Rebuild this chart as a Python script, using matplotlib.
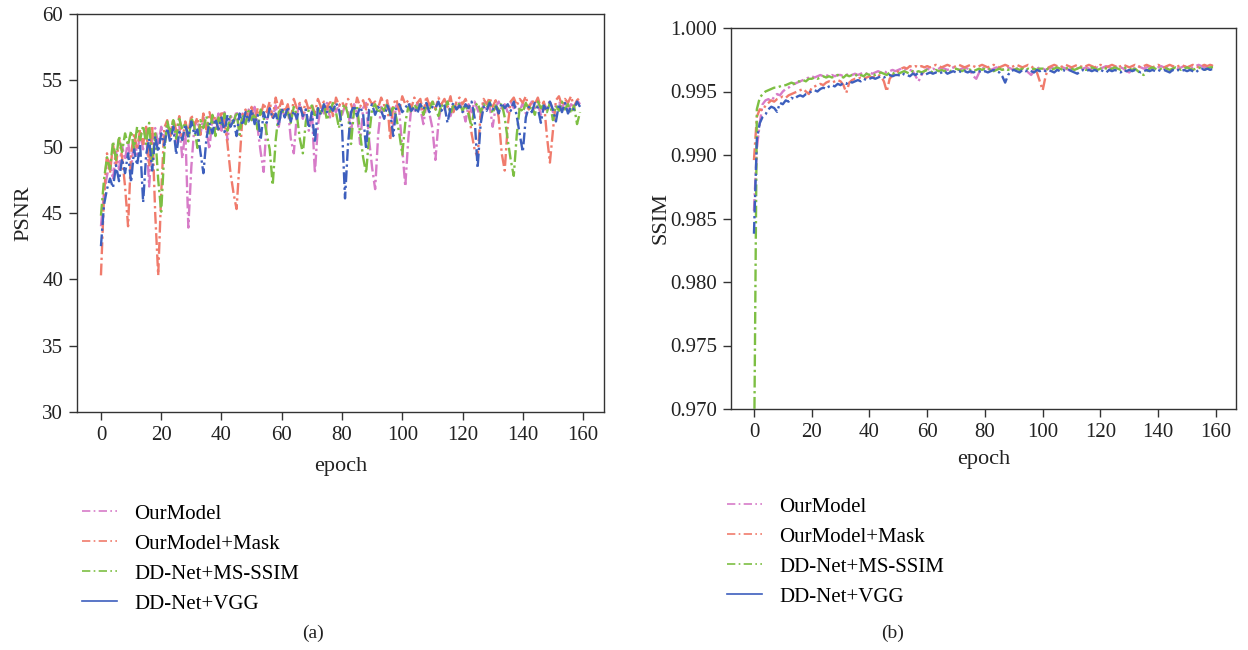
import matplotlib
matplotlib.use("Agg")
import matplotlib.pyplot as plt
from matplotlib.lines import Line2D
import numpy as np

plt.rcParams['font.family'] = ['Liberation Serif', 'DejaVu Serif']

epochs = list(range(160))
labels = ["OurModel", "OurModel+Mask", "DD-Net+MS-SSIM", "DD-Net+VGG"]
colors = ["#d77cc8", "#f07b6c", "#7dbf43", "#3d5fbd"]

psnr_ourmodel = [
    44.0, 46.5, 47.8, 48.9, 47.5, 49.6, 48.3, 50.1, 49.0, 50.5, 48.2, 50.7, 49.4, 51.0, 49.8, 51.2, 47.0, 50.6, 51.4, 50.2,
    51.5, 50.4, 51.7, 50.8, 51.9, 50.3, 51.6, 49.1, 51.2, 43.9, 48.5, 51.5, 52.0, 50.9, 52.2, 51.3, 49.8, 52.3, 51.4, 52.5,
    51.2, 52.6, 50.5, 52.4, 51.8, 52.7, 50.9, 52.5, 51.7, 52.8, 52.0, 53.0, 51.4, 49.6, 48.1, 51.9, 52.9, 52.2, 53.1, 51.5,
    52.8, 52.3, 53.0, 50.6, 49.5, 52.4, 53.2, 52.1, 52.9, 51.2, 52.7, 48.0, 51.6, 53.1, 52.5, 53.3, 52.2, 53.0, 52.6, 53.2,
    52.4, 53.1, 52.8, 51.0, 53.2, 52.5, 50.2, 52.9, 53.3, 50.5, 48.4, 46.8, 50.9, 53.0, 52.6, 53.3, 52.8, 51.6, 53.1, 52.7,
    49.8, 47.0, 50.6, 53.0, 52.6, 53.3, 52.9, 51.7, 53.2, 52.5, 51.4, 49.0, 51.8, 53.2, 52.8, 53.4, 52.3, 53.1, 52.7, 53.3,
    52.9, 51.9, 53.2, 52.6, 53.4, 52.8, 52.2, 53.3, 52.7, 53.1, 51.5, 53.0, 53.4, 52.8, 53.2, 52.6, 53.4, 52.9, 53.1, 52.7,
    53.3, 52.5, 53.0, 53.4, 52.9, 53.2, 52.4, 53.3, 52.8, 53.5, 52.6, 53.1, 53.3, 52.9, 53.4, 52.7, 53.2, 53.0, 53.5, 53.2,
]
psnr_mask = [
    40.3, 46.2, 49.5, 48.0, 50.2, 48.6, 50.6, 49.2, 47.0, 44.0, 49.5, 51.0, 49.8, 51.3, 50.2, 51.5, 48.5, 51.6, 45.0, 40.3,
    46.5, 51.4, 52.0, 50.8, 52.1, 51.2, 52.3, 50.5, 51.9, 51.0, 52.4, 51.6, 52.2, 50.9, 52.5, 51.3, 52.6, 51.8, 52.3, 51.1,
    52.7, 51.9, 50.2, 48.0, 46.5, 45.3, 48.9, 52.4, 52.8, 52.1, 53.0, 51.8, 52.9, 52.3, 53.3, 52.6, 53.4, 52.2, 53.7, 52.8,
    53.5, 52.6, 53.2, 52.0, 53.6, 52.9, 53.3, 52.4, 53.5, 52.7, 53.2, 52.5, 53.6, 53.0, 53.4, 52.8, 53.5, 52.3, 53.7, 53.1,
    53.4, 52.9, 53.6, 53.2, 52.5, 53.7, 53.0, 53.5, 52.8, 53.6, 53.2, 53.4, 52.9, 53.7, 53.1, 53.5, 50.5, 53.2, 53.6, 52.7,
    53.8, 53.2, 53.5, 52.9, 53.7, 53.3, 53.6, 52.4, 53.8, 53.1, 53.5, 52.8, 53.7, 53.2, 53.6, 53.0, 53.8, 52.6, 53.4, 53.7,
    53.2, 53.6, 52.9, 51.0, 49.8, 49.2, 52.5, 53.6, 53.2, 53.7, 53.0, 53.5, 52.2, 49.5, 48.2, 51.6, 53.4, 53.7, 53.1, 53.6,
    53.3, 53.8, 52.8, 53.5, 53.2, 53.7, 52.9, 53.4, 50.8, 48.8, 51.2, 53.5, 53.8, 53.1, 53.6, 53.3, 53.8, 53.0, 53.5, 53.7,
]
psnr_msssim = [
    44.8, 47.5, 49.2, 48.3, 50.4, 49.0, 50.8, 49.6, 51.0, 50.1, 51.2, 49.8, 51.5, 50.5, 51.6, 50.2, 51.8, 48.8, 51.0, 47.5,
    45.1, 49.5, 51.9, 51.0, 52.0, 50.6, 52.1, 51.3, 51.8, 50.4, 52.2, 51.5, 49.9, 52.0, 51.4, 52.3, 51.0, 52.4, 50.8, 52.2,
    51.6, 52.5, 51.2, 52.3, 51.8, 52.6, 50.9, 52.4, 51.7, 52.7, 52.0, 52.5, 51.3, 52.8, 52.2, 51.0, 49.8, 47.1, 50.5, 52.6,
    52.9, 52.3, 52.6, 51.8, 53.0, 52.4, 50.6, 49.5, 51.9, 52.8, 53.1, 52.2, 52.9, 52.5, 53.2, 52.0, 52.7, 53.3, 52.6, 51.4,
    52.9, 53.2, 52.4, 50.2, 52.8, 53.1, 51.0, 49.2, 48.0, 50.8, 52.9, 53.2, 52.5, 53.0, 52.7, 53.3, 52.4, 53.1, 52.2, 51.0,
    49.4, 51.8, 53.0, 52.6, 53.2, 52.8, 53.3, 52.4, 53.1, 52.7, 53.4, 52.9, 52.3, 53.2, 52.8, 53.4, 52.5, 53.1, 52.9, 53.3,
    52.7, 53.2, 52.4, 51.5, 53.0, 53.3, 52.6, 53.2, 52.9, 53.4, 52.5, 53.1, 52.8, 53.3, 52.2, 50.5, 49.0, 47.8, 50.9, 53.0,
    52.6, 53.3, 52.8, 53.1, 52.4, 53.4, 52.9, 53.2, 52.6, 53.3, 52.0, 53.1, 52.7, 53.4, 52.8, 53.2, 52.5, 53.1, 51.7, 52.6,
]
psnr_vgg = [
    42.5, 45.6, 46.8, 47.6, 46.9, 48.6, 47.4, 49.1, 48.0, 49.5, 47.3, 49.8, 48.6, 50.2, 45.8, 49.4, 50.6, 48.2, 50.8, 49.6,
    51.0, 50.1, 51.4, 50.3, 51.5, 49.4, 51.1, 50.5, 51.7, 50.7, 51.9, 50.9, 51.3, 49.6, 48.0, 50.6, 51.8, 51.0, 52.1, 51.3,
    52.2, 51.1, 52.4, 51.5, 52.0, 50.8, 52.5, 51.6, 52.6, 51.9, 52.8, 51.7, 52.4, 50.5, 52.6, 51.8, 52.9, 52.1, 52.5, 51.6,
    52.9, 52.2, 53.0, 51.9, 52.7, 52.1, 53.1, 52.3, 52.8, 51.4, 52.6, 50.3, 52.9, 52.4, 53.2, 52.6, 53.0, 52.7, 53.3, 52.8,
    51.5, 46.1, 50.2, 52.6, 53.1, 52.3, 53.0, 52.5, 49.8, 52.8, 53.2, 52.4, 53.0, 52.7, 52.1, 53.1, 52.6, 50.8, 52.9, 53.2,
    52.6, 52.9, 53.3, 52.7, 53.0, 52.5, 53.2, 52.8, 53.3, 52.6, 53.0, 52.9, 53.4, 52.7, 53.1, 51.8, 52.9, 53.3, 52.8, 53.1,
    52.6, 53.2, 52.9, 53.4, 52.2, 48.4, 51.7, 53.0, 52.7, 53.3, 52.8, 53.1, 52.5, 53.3, 52.9, 53.2, 52.7, 53.4, 52.3, 50.9,
    49.6, 52.2, 53.0, 52.6, 53.3, 52.9, 51.8, 53.1, 52.7, 53.4, 52.8, 51.9, 53.2, 52.6, 53.3, 52.5, 53.0, 52.8, 53.4, 53.0,
]

ssim_ourmodel = [
    .9856, .9905, .9925, .9940, .9943, .9944, .9942, .9946, .9948, .9947, .9950, .9952, .9953, .9955, .9956, .9957, .9958, .9959, .9960, .9961,
    .9962, .9961, .9962, .9963, .9962, .9963, .9962, .9963, .9962, .9963, .9963, .9962, .9963, .9964, .9963, .9964, .9963, .9964, .9965, .9964,
    .9965, .9964, .9965, .9966, .9965, .9966, .9965, .9966, .9967, .9966, .9967, .9968, .9967, .9968, .9967, .9966, .9962, .9958, .9963, .9966,
    .9968, .9967, .9968, .9967, .9968, .9969, .9968, .9967, .9968, .9969, .9968, .9967, .9968, .9969, .9968, .9966, .9962, .9960, .9965, .9968,
    .9969, .9968, .9967, .9968, .9969, .9968, .9967, .9968, .9969, .9968, .9967, .9968, .9969, .9968, .9967, .9965, .9963, .9966, .9968, .9969,
    .9968, .9967, .9968, .9969, .9968, .9967, .9968, .9969, .9968, .9967, .9968, .9969, .9968, .9967, .9968, .9969, .9968, .9967, .9968, .9969,
    .9968, .9969, .9970, .9969, .9968, .9969, .9970, .9969, .9968, .9966, .9965, .9967, .9969, .9970, .9969, .9968, .9969, .9970, .9969, .9968,
    .9969, .9970, .9969, .9968, .9969, .9970, .9969, .9968, .9969, .9970, .9969, .9968, .9969, .9970, .9971, .9970, .9969, .9970, .9971, .9970,
]
ssim_mask = [
    .9896, .9930, .9936, .9935, .9939, .9941, .9943, .9942, .9944, .9945, .9946, .9945, .9947, .9948, .9949, .9950, .9951, .9952, .9950, .9948,
    .9953, .9954, .9955, .9956, .9955, .9957, .9958, .9957, .9958, .9959, .9958, .9955, .9949, .9957, .9959, .9960, .9960, .9961, .9960, .9961,
    .9962, .9961, .9962, .9963, .9962, .9958, .9950, .9960, .9963, .9964, .9966, .9968, .9969, .9968, .9970, .9969, .9970, .9969, .9970, .9969,
    .9970, .9969, .9970, .9971, .9970, .9969, .9970, .9971, .9970, .9969, .9970, .9971, .9970, .9969, .9970, .9971, .9970, .9969, .9970, .9971,
    .9970, .9969, .9970, .9971, .9970, .9969, .9970, .9971, .9970, .9969, .9970, .9971, .9970, .9969, .9970, .9971, .9970, .9968, .9965, .9958,
    .9951, .9962, .9969, .9970, .9971, .9970, .9969, .9970, .9971, .9970, .9969, .9970, .9971, .9970, .9969, .9970, .9971, .9970, .9969, .9970,
    .9971, .9970, .9969, .9970, .9971, .9970, .9969, .9970, .9971, .9970, .9969, .9970, .9971, .9970, .9969, .9970, .9971, .9970, .9969, .9970,
    .9971, .9970, .9969, .9970, .9971, .9970, .9969, .9970, .9971, .9970, .9969, .9970, .9971, .9970, .9969, .9970, .9971, .9970, .9971, .9970,
]
ssim_msssim = [
    .9650, .9936, .9945, .9948, .9950, .9951, .9952, .9953, .9953, .9954, .9955, .9955, .9956, .9957, .9956, .9958, .9958, .9959, .9958, .9960,
    .9960, .9961, .9960, .9961, .9962, .9961, .9962, .9961, .9962, .9963, .9962, .9961, .9963, .9962, .9963, .9962, .9964, .9963, .9962, .9964,
    .9963, .9964, .9963, .9964, .9965, .9964, .9963, .9965, .9964, .9965, .9964, .9965, .9966, .9965, .9964, .9966, .9965, .9966, .9965, .9966,
    .9967, .9966, .9965, .9967, .9966, .9967, .9966, .9967, .9966, .9967, .9968, .9967, .9966, .9967, .9968, .9967, .9966, .9967, .9968, .9967,
    .9968, .9967, .9968, .9966, .9967, .9968, .9967, .9968, .9967, .9968, .9967, .9968, .9967, .9968, .9967, .9968, .9967, .9968, .9967, .9968,
    .9968, .9967, .9968, .9967, .9968, .9969, .9968, .9967, .9968, .9969, .9968, .9967, .9968, .9969, .9968, .9967, .9968, .9969, .9968, .9967,
    .9968, .9969, .9968, .9967, .9968, .9969, .9968, .9967, .9968, .9969, .9968, .9967, .9968, .9966, .9964, .9963, .9966, .9968, .9969, .9968,
    .9967, .9968, .9969, .9968, .9967, .9968, .9969, .9968, .9967, .9968, .9969, .9968, .9967, .9968, .9969, .9968, .9967, .9968, .9969, .9969,
]
ssim_vgg = [
    .9838, .9912, .9925, .9930, .9932, .9936, .9938, .9937, .9934, .9941, .9940, .9943, .9942, .9945, .9944, .9946, .9947, .9946, .9948, .9949,
    .9950, .9951, .9950, .9952, .9953, .9952, .9954, .9955, .9954, .9956, .9955, .9957, .9956, .9958, .9957, .9958, .9959, .9958, .9960, .9959,
    .9960, .9961, .9960, .9961, .9962, .9961, .9962, .9963, .9962, .9963, .9963, .9962, .9964, .9963, .9962, .9964, .9963, .9965, .9964, .9963,
    .9964, .9965, .9964, .9965, .9964, .9965, .9966, .9964, .9965, .9966, .9965, .9966, .9965, .9966, .9965, .9966, .9965, .9966, .9966, .9965,
    .9966, .9965, .9966, .9967, .9966, .9965, .9962, .9957, .9963, .9966, .9967, .9966, .9965, .9967, .9966, .9967, .9966, .9965, .9967, .9966,
    .9967, .9966, .9967, .9966, .9965, .9967, .9966, .9967, .9966, .9967, .9966, .9965, .9964, .9966, .9967, .9966, .9967, .9966, .9967, .9966,
    .9967, .9966, .9965, .9967, .9966, .9967, .9966, .9965, .9967, .9966, .9967, .9966, .9967, .9966, .9965, .9966, .9967, .9966, .9967, .9966,
    .9967, .9966, .9967, .9966, .9965, .9967, .9966, .9967, .9966, .9967, .9966, .9967, .9966, .9965, .9967, .9968, .9967, .9968, .9967, .9968,
]

psnr_series = [psnr_ourmodel, psnr_mask, psnr_msssim, psnr_vgg]
ssim_series = [ssim_ourmodel, ssim_mask, ssim_msssim, ssim_vgg]

dashdot = (0, (5, 1.5, 1, 1.5))

fig = plt.figure(figsize=(12.48, 6.5), dpi=100)
ax1 = fig.add_axes([77/1248, 1-412/650, (604-77)/1248, (412-14)/650])
ax2 = fig.add_axes([731/1248, 1-409/650, (1236-731)/1248, (409-28)/650])

for ax, series in ((ax1, psnr_series), (ax2, ssim_series)):
    for s, c in zip(series, colors):
        ax.plot(epochs, s, color=c, lw=1.7, linestyle=dashdot)
    ax.set_xticks(range(0, 161, 20))
    ax.tick_params(labelsize=15, length=6, width=1, color="#333333", labelcolor="#222222", pad=4)
    for sp in ax.spines.values():
        sp.set_linewidth(1)
        sp.set_color("#333333")

ax1.set_xlabel("epoch", fontsize=16, labelpad=9, color="#222222")
ax2.set_xlabel("epoch", fontsize=16, labelpad=6, color="#222222")

ax1.set_ylim(30, 60)
ax1.set_yticks(range(30, 61, 5))
ax1.set_ylabel("PSNR", fontsize=16, labelpad=6, color="#222222")

ax2.set_ylim(0.970, 1.000)
ax2.set_yticks(np.arange(0.970, 1.0001, 0.005))
ax2.yaxis.set_major_formatter(matplotlib.ticker.FormatStrFormatter('%.3f'))
ax2.set_ylabel("SSIM", fontsize=16, labelpad=0, color="#222222")

handles = [Line2D([], [], color=c, lw=1.2, linestyle=(0, (5, 2, 1, 2)) if i < 3 else '-')
           for i, c in enumerate(colors)]
leg_kw = dict(loc="upper left", frameon=False, fontsize=15, handlelength=1.7,
              labelspacing=0.5, handletextpad=0.8, borderaxespad=0, borderpad=0)
fig.legend(handles, labels, bbox_to_anchor=(82/1248, 1-504/650), **leg_kw)
fig.legend(handles, labels, bbox_to_anchor=(727/1248, 1-497/650), **leg_kw)

fig.text(313/1248, 1-633/650, "(a)", fontsize=14, ha="center", va="center", color="#222222")
fig.text(893/1248, 1-633/650, "(b)", fontsize=14, ha="center", va="center", color="#222222")

fig.savefig("out.png", dpi=100)
